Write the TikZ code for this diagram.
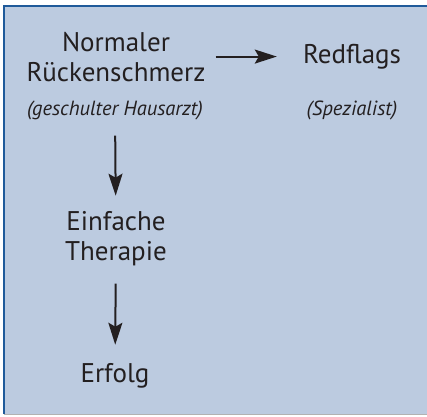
\documentclass[tikz,border=0pt]{standalone}
\usepackage{fontspec}
\setmainfont{PT Sans}
\usetikzlibrary{arrows.meta}

\definecolor{kasten}{HTML}{BCCBE0}
\definecolor{rahmen}{HTML}{1F5A9A}
\definecolor{schrift}{HTML}{231F20}

\tikzset{
  haupt/.style={align=center, inner sep=0pt, text=schrift,
    font=\fontsize{27}{30}\selectfont},
  zusatz/.style={inner sep=0pt, text=schrift,
    font=\fontsize{20.5}{24}\selectfont\itshape},
  pfeil/.style={-{Stealth[length=22pt,width=14pt,inset=4pt]},
    line width=2pt, draw=schrift}
}

\begin{document}
\begin{tikzpicture}[x=1pt,y=-1pt]
\useasboundingbox (0,0) rectangle (427,416);
\fill[kasten] (4,6) rectangle (427,414);
\draw[rahmen, line width=1.5pt] (4,414) -- (4,6) -- (427,6);
\draw[gray!60, line width=0.8pt] (4,414) -- (427,414);
% Knoten
\node[haupt, anchor=base] (normal) at (116,81) {Normaler\\Rückenschmerz};
\node[haupt, anchor=base] (red) at (352,63) {Redflags};
\node[zusatz, anchor=base] (hausarzt) at (115,115) {(geschulter Hausarzt)};
\node[zusatz, anchor=base] (spezialist) at (352,115) {(Spezialist)};
\node[haupt, anchor=base] (einfach) at (116,260) {Einfache\\Therapie};
\node[haupt, anchor=base] (erfolg) at (115,382) {Erfolg};
% Pfeile
\draw[pfeil, shorten <=10pt, shorten >=26pt] (normal.east) -- (normal.east -| red.west);
\draw[pfeil, shorten <=16pt, shorten >=15pt] (hausarzt) -- (einfach);
\draw[pfeil, shorten <=18pt, shorten >=18pt] (einfach) -- (erfolg);
\end{tikzpicture}
\end{document}
